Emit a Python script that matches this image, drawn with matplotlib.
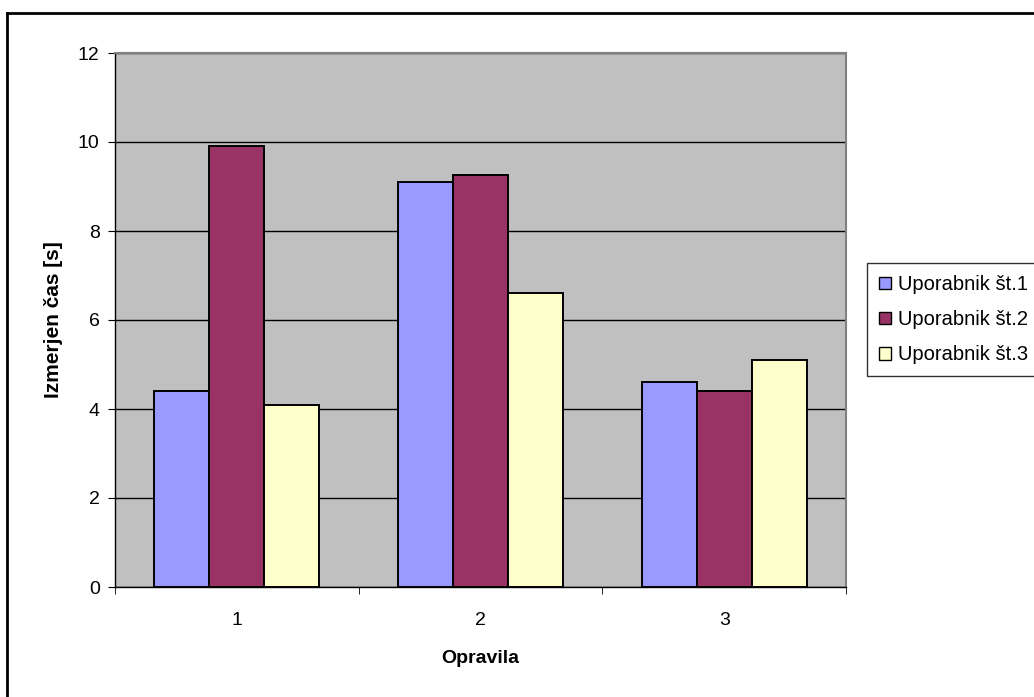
import numpy as np
import matplotlib.pyplot as plt
from matplotlib.lines import Line2D
from matplotlib.patches import Patch

plt.rcParams['font.family'] = ['Liberation Sans', 'DejaVu Sans']

tasks = ["1", "2", "3"]
users = ["Uporabnik št.1", "Uporabnik št.2", "Uporabnik št.3"]
user1 = [4.4, 9.1, 4.6]
user2 = [9.9, 9.25, 4.4]
user3 = [4.1, 6.6, 5.1]
colors = ["#9999ff", "#993366", "#ffffcc"]

fig = plt.figure(figsize=(10.34, 6.97), dpi=100)
ax = fig.add_axes([115 / 1034, 1 - 587 / 697, (846 - 115) / 1034, (587 - 53) / 697])
ax.set_facecolor("#c0c0c0")

x = np.arange(len(tasks))
w = 0.226
for i, (vals, col) in enumerate(zip([user1, user2, user3], colors)):
    ax.bar(x + (i - 1) * w, vals, w, color=col, edgecolor="black", linewidth=1.4,
           zorder=3, label=users[i])

ax.set_xlim(-0.5, 2.5)
ax.set_ylim(0, 12)
ax.set_yticks(range(0, 13, 2))
ax.yaxis.grid(True, color="black", linewidth=1)
ax.set_axisbelow(True)

ax.set_xticks(x)
ax.set_xticklabels(tasks)
ax.set_xticks([-0.5, 0.5, 1.5, 2.5], minor=True)
ax.tick_params(axis="x", which="major", length=0, pad=18, labelsize=14)
ax.tick_params(axis="x", which="minor", length=5, direction="out")
ax.tick_params(axis="y", length=5, direction="out", labelsize=14, pad=6)

for side in ["top", "right"]:
    ax.spines[side].set_color("#808080")
    ax.spines[side].set_linewidth(1.5)
for side in ["left", "bottom"]:
    ax.spines[side].set_color("black")
    ax.spines[side].set_linewidth(1)

ax.set_xlabel("Opravila", fontsize=14, fontweight="bold", labelpad=15)
ax.set_ylabel("Izmerjen čas [s]", fontsize=15, fontweight="bold", labelpad=11)

handles = [Patch(facecolor=c, edgecolor="black", linewidth=1) for c in colors]
leg = fig.legend(handles, users, loc="upper left", bbox_to_anchor=(867 / 1034, 1 - 263 / 697),
                 fontsize=14.5, frameon=True, fancybox=False, edgecolor="black",
                 handlelength=0.6, handleheight=0.6, handletextpad=0.35,
                 labelspacing=0.8, borderpad=0.6, borderaxespad=0)
leg.get_frame().set_linewidth(1)

# outer chart frame
fig.add_artist(Line2D([7 / 1034, 7 / 1034], [0, 1 - 13 / 697], color="black", linewidth=2,
                      transform=fig.transFigure))
fig.add_artist(Line2D([7 / 1034, 1], [1 - 13 / 697, 1 - 13 / 697], color="black", linewidth=2,
                      transform=fig.transFigure))

fig.savefig("out.png", dpi=100)
